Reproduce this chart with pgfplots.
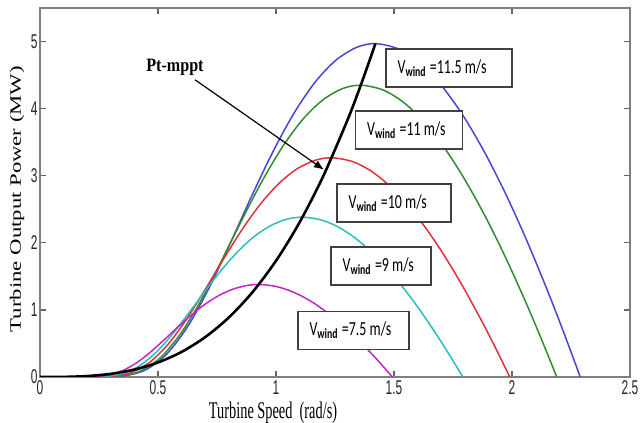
\documentclass[border=0pt]{standalone}
\usepackage{fontspec}
\usepackage{graphicx}
\usepackage{pgfplots}
\pgfplotsset{compat=1.18}
\usetikzlibrary{arrows.meta}
\setmainfont{Liberation Serif}
\newfontfamily\tickfont[FakeStretch=0.6]{Liberation Sans}
\newfontfamily\labfont[FakeStretch=0.6]{Liberation Serif}
\newfontfamily\ptfont[FakeStretch=0.85]{Liberation Serif}
\newfontfamily\boxfont[FakeStretch=0.7]{Carlito}

\definecolor{cblue}{RGB}{70,70,215}
\definecolor{cgreen}{RGB}{50,140,50}
\definecolor{cred}{RGB}{225,50,60}
\definecolor{ccyan}{RGB}{40,190,185}
\definecolor{cmag}{RGB}{190,40,195}

% label box: x, y, width, wind speed
\newcommand\wbox[4]{%
  \node[draw=black!75, line width=0.8bp, fill=white, minimum width=#3,
        minimum height=19bp, inner sep=0pt] (b) at (axis cs:#1,#2) {};
  \node[anchor=west, inner sep=0pt, font=\boxfont\fontsize{10}{11}\selectfont]
    at ([xshift=6bp]b.west) {V\textsubscript{\bfseries wind}\,=#4 m/s};
}

\begin{document}
\begin{tikzpicture}
\begin{axis}[
  scale only axis, width=295bp, height=184.5bp,
  xmin=0, xmax=2.5, ymin=0, ymax=5.5,
  xtick={0,0.5,...,2.5}, ytick={0,1,2,3,4,5},
  tick align=inside, major tick length=3bp,
  axis line style={black!50, line width=0.8bp},
  tick style={black!60, line width=0.6bp},
  /pgf/number format/assume math mode=true,
  ticklabel style={font=\tickfont\fontsize{10}{11}\selectfont, text=black!85},
  xticklabel style={inner sep=0pt, anchor=north, yshift=-1.5bp},
  yticklabel style={inner sep=0pt, anchor=east, xshift=-1bp},
  xlabel={Turbine Speed\ \ (rad/s)},
  ylabel={\scalebox{1}[0.7]{Turbine Output Power (MW)}},
  xlabel style={font=\labfont\fontsize{12}{13}\selectfont,
    at={([yshift=-20.5bp]axis description cs:0.395,0)}, anchor=base},
  ylabel style={font=\rmfamily\fontsize{11.4}{12}\selectfont,
    at={([xshift=-11.5bp]axis description cs:0,0.482)}, anchor=center},
  every axis plot/.append style={smooth, tension=0.5, line width=0.75bp},
]
% V = 11.5 m/s
\addplot[cblue] coordinates {
 (0,0) (0.268,0.0005) (0.3576,0.0169) (0.447,0.1059) (0.5364,0.3404)
 (0.6258,0.7525) (0.7152,1.3185) (0.8046,1.982) (0.894,2.6739)
 (0.9834,3.3324) (1.0728,3.9119) (1.1622,4.3791) (1.2516,4.7155)
 (1.341,4.9128) (1.4215,4.97) (1.5198,4.888) (1.6092,4.6817)
 (1.6986,4.3547) (1.788,3.9223) (1.8774,3.391) (1.9668,2.7762)
 (2.0562,2.0859) (2.1456,1.3295) (2.2171,0.6834) (2.2893,0)
};
% V = 11 m/s
\addplot[cgreen] coordinates {
 (0,0) (0.2565,0.0004) (0.3421,0.0148) (0.4276,0.0926) (0.5131,0.298)
 (0.5986,0.6585) (0.6841,1.1539) (0.7696,1.7346) (0.8551,2.3401)
 (0.9406,2.9164) (1.0262,3.4236) (1.1117,3.8324) (1.1972,4.1269)
 (1.2827,4.2996) (1.3597,4.3496) (1.4537,4.2778) (1.5392,4.0973)
 (1.6247,3.8111) (1.7103,3.4327) (1.7958,2.9677) (1.8813,2.4297)
 (1.9668,1.8255) (2.0523,1.1635) (2.1207,0.5981) (2.1897,0)
};
% V = 10 m/s
\addplot[cred] coordinates {
 (0,0) (0.2332,0.0003) (0.311,0.0111) (0.3887,0.0696) (0.4664,0.2239)
 (0.5442,0.4948) (0.6219,0.867) (0.6997,1.3032) (0.7774,1.7581)
 (0.8551,2.1911) (0.9329,2.5722) (1.0106,2.8794) (1.0883,3.1006)
 (1.1661,3.2303) (1.236,3.2679) (1.3216,3.214) (1.3993,3.0784)
 (1.477,2.8633) (1.5548,2.579) (1.6325,2.2297) (1.7103,1.8255)
 (1.788,1.3715) (1.8657,0.8742) (1.9279,0.4493) (1.9907,0)
};
% V = 9 m/s
\addplot[ccyan] coordinates {
 (0,0) (0.2099,0.0002) (0.2799,0.0081) (0.3498,0.0507) (0.4198,0.1632)
 (0.4898,0.3607) (0.5597,0.632) (0.6297,0.9501) (0.6997,1.2817)
 (0.7696,1.5973) (0.8396,1.8751) (0.9095,2.0991) (0.9795,2.2603)
 (1.0495,2.3549) (1.1124,2.3823) (1.1894,2.343) (1.2594,2.2441)
 (1.3293,2.0874) (1.3993,1.8801) (1.4693,1.6255) (1.5392,1.3308)
 (1.6092,0.9998) (1.6792,0.6373) (1.7351,0.3276) (1.7916,0)
};
% V = 7.5 m/s
\addplot[cmag] coordinates {
 (0,0) (0.1749,0.0001) (0.2332,0.0047) (0.2915,0.0294) (0.3498,0.0944)
 (0.4081,0.2087) (0.4664,0.3657) (0.5247,0.5498) (0.583,0.7417)
 (0.6413,0.9244) (0.6997,1.0851) (0.758,1.2147) (0.8163,1.308)
 (0.8746,1.3627) (0.927,1.3786) (0.9912,1.3559) (1.0495,1.2986)
 (1.1078,1.208) (1.1661,1.088) (1.2244,0.9406) (1.2827,0.7701)
 (1.341,0.5786) (1.3993,0.3688) (1.446,0.1896) (1.493,0)
};
% Pt-mppt
\addplot[black, line width=1.3bp] coordinates {
 (0,0) (0.1,0.0017) (0.2,0.0139) (0.3,0.0468) (0.4,0.1108) (0.5,0.2165)
 (0.6,0.3741) (0.7,0.5941) (0.8,0.8868) (0.9,1.2626) (1.0,1.732)
 (1.1,2.3053) (1.2,2.9929) (1.3,3.8052) (1.35,4.2615) (1.4,4.7527)
 (1.421,4.97)
};
\wbox{1.733}{4.609}{63bp}{11.5}
\wbox{1.564}{3.679}{53.5bp}{11}
\wbox{1.5}{2.597}{57bp}{10}
\wbox{1.445}{1.657}{50bp}{9}
\wbox{1.328}{0.694}{55.5bp}{7.5}
\node[font=\ptfont\bfseries\fontsize{9.5}{10}\selectfont] at (axis cs:0.572,4.61) {Pt-mppt};
\draw[-{Latex[length=5bp,width=4bp]}, line width=0.6bp] (axis cs:0.657,4.43) -- (axis cs:1.203,3.09);
\end{axis}
\pgfresetboundingbox
\path[use as bounding box] (-20bp,-23bp) rectangle (302bp,188.5bp);
\end{tikzpicture}
\end{document}
